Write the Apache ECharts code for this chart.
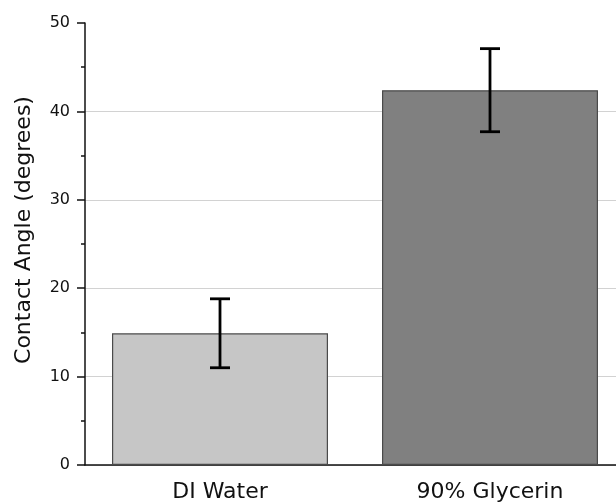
<!DOCTYPE html>
<html><head><meta charset="utf-8">
<script src="https://cdn.jsdelivr.net/npm/echarts@6/dist/echarts.min.js"></script>
<style>html,body{margin:0;padding:0;background:#fff}#c{width:616px;height:502px}</style>
</head><body><div id="c"></div>
<script>
const categories = ['DI Water', '90% Glycerin'];
const means = [14.9, 42.4];
const errors = [3.9, 4.7];
const barColors = ['#c6c6c6', '#808080'];
const yTicks = [0, 10, 20, 30, 40, 50];
const yTitle = 'Contact Angle (degrees)';

const chart = echarts.init(document.getElementById('c'));
const font = '"DejaVu Sans", Arial, sans-serif';
chart.setOption({
  animation: false,
  grid: {left: 85, width: 540, top: 23, height: 442, containLabel: false, outerBoundsMode: 'none'},
  graphic: [{
    type: 'text', x: 24, y: 230, rotation: Math.PI / 2,
    style: {text: yTitle, fill: '#111', fontSize: 22, fontFamily: font, align: 'center', verticalAlign: 'middle'}
  }],
  xAxis: {
    type: 'category', data: categories,
    axisLine: {lineStyle: {color: '#111', width: 1.5}},
    axisTick: {alignWithLabel: true, length: 6, lineStyle: {color: '#111', width: 1.5}},
    axisLabel: {color: '#111', fontSize: 22, fontFamily: font, margin: 16}
  },
  yAxis: {
    type: 'value', min: yTicks[0], max: yTicks[yTicks.length-1], interval: 10,
    axisLine: {show: true, lineStyle: {color: '#111', width: 1.5}},
    axisTick: {show: true, length: 8, lineStyle: {color: '#111', width: 1.5}},
    minorTick: {show: true, splitNumber: 2, length: 4, lineStyle: {color: '#111', width: 1.5}},
    axisLabel: {color: '#111', fontSize: 16, fontFamily: font, margin: 15},
    splitLine: {show: true, lineStyle: {color: ['#d2d2d2','#d2d2d2','#d2d2d2','#d2d2d2','#d2d2d2','rgba(0,0,0,0)'], width: 1}}
  },
  series: [
    {
      type: 'bar', barCategoryGap: '20%',
      data: means.map((v, i) => ({value: v, itemStyle: {color: barColors[i], borderColor: '#4a4a4a', borderWidth: 1.2}})),
      z: 2
    },
    {
      type: 'custom', z: 5,
      data: means.map((v, i) => [i, v - errors[i], v + errors[i]]),
      renderItem: function (params, api) {
        const lo = api.coord([api.value(0), api.value(1)]);
        const hi = api.coord([api.value(0), api.value(2)]);
        const hw = 10;
        const st = {stroke: '#000', lineWidth: 2.8, fill: null};
        return {type: 'group', children: [
          {type: 'line', shape: {x1: lo[0], y1: lo[1], x2: hi[0], y2: hi[1]}, style: st},
          {type: 'line', shape: {x1: lo[0]-hw, y1: lo[1], x2: lo[0]+hw, y2: lo[1]}, style: st},
          {type: 'line', shape: {x1: hi[0]-hw, y1: hi[1], x2: hi[0]+hw, y2: hi[1]}, style: st}
        ]};
      }
    }
  ]
});
</script></body></html>
